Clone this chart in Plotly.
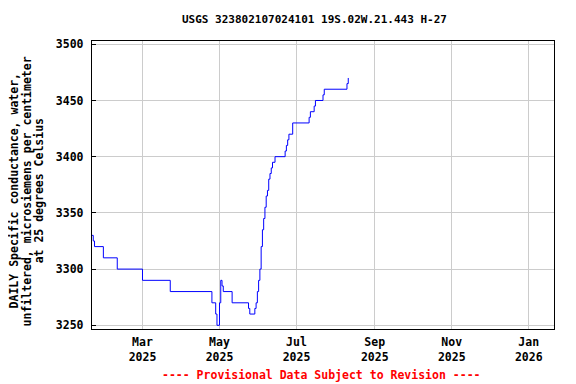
import plotly.graph_objects as go

# Change points of the daily series (value holds until next date)
dates = [
    "2025-01-20", "2025-01-21", "2025-01-22", "2025-01-29", "2025-02-09",
    "2025-03-01", "2025-03-23", "2025-04-25", "2025-04-28", "2025-04-29",
    "2025-05-01", "2025-05-02", "2025-05-03", "2025-05-04", "2025-05-11",
    "2025-05-24", "2025-05-25", "2025-05-29", "2025-05-30", "2025-05-31",
    "2025-06-01", "2025-06-02", "2025-06-03", "2025-06-04", "2025-06-05",
    "2025-06-06", "2025-06-07", "2025-06-08", "2025-06-09", "2025-06-10",
    "2025-06-11", "2025-06-12", "2025-06-14", "2025-06-22", "2025-06-23",
    "2025-06-24", "2025-06-25", "2025-06-28", "2025-07-11", "2025-07-12",
    "2025-07-15", "2025-07-16", "2025-07-22", "2025-07-23", "2025-08-10",
    "2025-08-11",
]
values = [
    3330, 3325, 3320, 3310, 3300,
    3290, 3280, 3270, 3260, 3250,
    3270, 3290, 3285, 3280, 3270,
    3265, 3260, 3265, 3270, 3280,
    3290, 3300, 3320, 3335, 3345,
    3355, 3365, 3370, 3380, 3385,
    3390, 3395, 3400, 3405, 3410,
    3415, 3420, 3430, 3435, 3440,
    3445, 3450, 3455, 3460, 3465,
    3470,
]

x_tick_vals = ["2025-03-01", "2025-05-01", "2025-07-01", "2025-09-01", "2025-11-01", "2026-01-01"]
x_tick_text = ["Mar<br>2025", "May<br>2025", "Jul<br>2025", "Sep<br>2025", "Nov<br>2025", "Jan<br>2026"]
y_tick_vals = [3250, 3300, 3350, 3400, 3450, 3500]

title_text = "USGS 323802107024101 19S.02W.21.443 H-27"
y_title_lines = [
    "DAILY Specific conductance, water,",
    "unfiltered, microsiemens per centimeter",
    "at 25 degrees Celsius",
]
footer = "---- Provisional Data Subject to Revision ----"

FONT = "DejaVu Sans Mono"

# page offset of the figure (browser body margin)
OFF = 8
PL, PT, PW, PH = 91.5, 40.5, 463.0, 288.5  # plot area in page pixels


def px(xp):
    return (xp - PL) / PW


def py(yp):
    return (PT + PH - yp) / PH


fig = go.Figure()
fig.add_trace(go.Scatter(
    x=dates, y=values, mode="lines", line_shape="hv",
    line=dict(color="#0000ff", width=1), showlegend=False,
))

fig.update_layout(
    width=576 - OFF, height=384 - OFF,
    margin=dict(l=PL - OFF, r=576 - PL - PW, t=PT - OFF, b=384 - PT - PH),
    paper_bgcolor="white", plot_bgcolor="white",
    font=dict(family=FONT, size=11, color="black", weight="bold"),
    showlegend=False,
)
fig.update_xaxes(
    range=["2025-01-20", "2026-01-21"],
    tickmode="array", tickvals=x_tick_vals, ticktext=x_tick_text,
    showgrid=True, gridcolor="#cccccc", gridwidth=1,
    showline=True, linecolor="black", linewidth=1.3, mirror=True,
    ticks="", ticklabelstandoff=2,
    tickfont=dict(family=FONT, size=11.5, color="black", weight="bold"),
    zeroline=False,
)
fig.update_yaxes(
    range=[3246.7, 3502.9],
    tickmode="array", tickvals=y_tick_vals,
    showgrid=True, gridcolor="#cccccc", gridwidth=1,
    showline=True, linecolor="black", linewidth=1.3, mirror=True,
    ticks="inside", ticklen=4, tickcolor="black", ticklabelstandoff=5,
    tickfont=dict(family=FONT, size=11.5, color="black", weight="bold"),
    zeroline=False,
)

fig.add_annotation(
    text=title_text, xref="paper", yref="paper",
    x=px(314), y=py(19),
    xanchor="center", yanchor="middle", showarrow=False,
    font=dict(family=FONT, size=11, color="black", weight="bold"),
)
for line, xp in zip(y_title_lines, [13.5, 26.5, 38.5]):
    fig.add_annotation(
        text=line, xref="paper", yref="paper",
        x=px(xp), y=py(191),
        xanchor="center", yanchor="middle", textangle=-90, showarrow=False,
        font=dict(family=FONT, size=11.5, color="black", weight="bold"),
    )
fig.add_annotation(
    text=footer, xref="paper", yref="paper",
    x=px(321), y=py(375),
    xanchor="center", yanchor="middle", showarrow=False,
    font=dict(family=FONT, size=11.5, color="red", weight="bold"),
)

fig.write_html("out.html")
